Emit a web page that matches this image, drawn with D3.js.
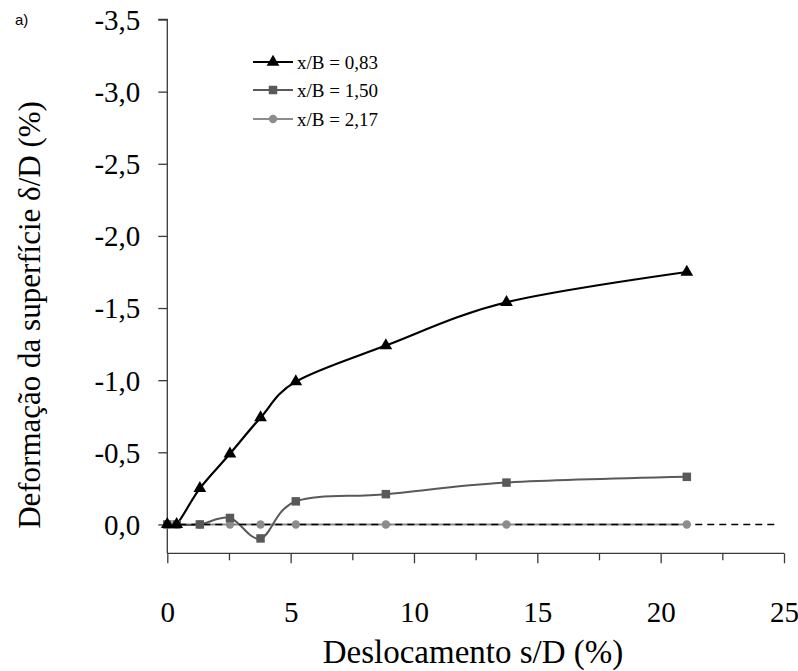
<!DOCTYPE html>
<html>
<head>
<meta charset="utf-8">
<script src="https://cdn.jsdelivr.net/npm/d3@7"></script>
<style>
  html, body { margin: 0; padding: 0; background: #fff; }
  svg { display: block; }
</style>
</head>
<body>
<svg id="chart" width="798" height="671"></svg>
<script>
// Data
const displacement = [0, 0.38, 1.32, 2.54, 3.78, 5.21, 8.86, 13.75, 21.06];
const seriesNames = ["x/B = 0,83", "x/B = 1,50", "x/B = 2,17"];
const valuesB083 = [0, 0, -0.25, -0.49, -0.74, -0.99, -1.24, -1.54, -1.75];
const valuesB150 = [0, 0, 0, -0.045, 0.097, -0.16, -0.21, -0.29, -0.33];
const valuesB217 = [0, 0, 0, 0, 0, 0, 0, 0, 0];
const xTicks = [0, 5, 10, 15, 20, 25];
const xMinorTicks = [2.5, 7.5, 12.5, 17.5, 22.5];
const yTicks = [0, -0.5, -1.0, -1.5, -2.0, -2.5, -3.0, -3.5];
const referenceLine = [0, 24.8];

const SERIF = "'Liberation Serif', 'Times New Roman', Times, serif";
const svg = d3.select("#chart");
const x = d3.scaleLinear().domain([0, 25]).range([167.3, 784]);
const y = d3.scaleLinear().domain([0.2, -3.5]).range([553.3, 19.5]);
const fmt = v => d3.format(".1f")(v).replace(".", ",").replace("−", "-");

const axisColor = "#3a3a3a";

// Axes
const yAxis = d3.axisLeft(y).tickValues(yTicks).tickSize(9).tickFormat(fmt);
const gy = svg.append("g").attr("transform", `translate(${x(0)},0)`).call(yAxis);
gy.attr("font-family", null);
gy.select(".domain").attr("stroke", axisColor).attr("stroke-width", 1.3)
  .attr("d", `M-9,${y(-3.5)}H0V${y(0.2)}`);
gy.selectAll(".tick line").attr("stroke", axisColor).attr("stroke-width", 1.3);
gy.selectAll(".tick text").attr("x", -27).attr("dy", "0.34em").attr("fill", "#000")
  .style("font-family", SERIF).style("font-size", "29px");

const xAxis = d3.axisBottom(x).tickValues(xTicks).tickSize(10).tickFormat(d3.format("d"));
const gx = svg.append("g").attr("transform", `translate(0,${y(0.2)})`).call(xAxis);
gx.attr("font-family", null);
gx.select(".domain").attr("stroke", axisColor).attr("stroke-width", 1.3)
  .attr("d", `M${x(0)},0H${x(25)}`);
gx.selectAll(".tick line").attr("stroke", axisColor).attr("stroke-width", 1.3);
gx.selectAll(".tick text").attr("y", 48).attr("fill", "#000")
  .style("font-family", SERIF).style("font-size", "29px");
const gxm = svg.append("g").attr("transform", `translate(0,${y(0.2)})`)
  .call(d3.axisBottom(x).tickValues(xMinorTicks).tickSize(7).tickFormat(""));
gxm.select(".domain").remove();
gxm.selectAll(".tick line").attr("stroke", axisColor).attr("stroke-width", 1.3);

// Series
const series = [
  { name: seriesNames[0], values: valuesB083, color: "#000000", marker: "triangle", width: 2.2 },
  { name: seriesNames[1], values: valuesB150, color: "#595959", marker: "square", width: 2.0 },
  { name: seriesNames[2], values: valuesB217, color: "#8c8c8c", marker: "circle", width: 2.0 }
];
const line = d3.line().x(d => x(d[0])).y(d => y(d[1])).curve(d3.curveCardinal.tension(0));
const symbolOf = {
  triangle: d3.symbol().type(d3.symbolTriangle).size(70),
  square: d3.symbol().type(d3.symbolSquare).size(72),
  circle: d3.symbol().type(d3.symbolCircle).size(55)
};

const ordered = series.slice().reverse();
ordered.forEach(s => {
  const pts = displacement.map((d, i) => [d, s.values[i]]);
  svg.append("path").datum(pts).attr("d", line)
    .attr("fill", "none").attr("stroke", s.color).attr("stroke-width", s.width);
});

// Reference dashed line at zero (drawn over the lines)
svg.append("line")
  .attr("x1", x(referenceLine[0])).attr("x2", x(referenceLine[1]))
  .attr("y1", y(0)).attr("y2", y(0))
  .attr("stroke", "#000").attr("stroke-width", 1.6)
  .attr("stroke-dasharray", "7,5");

ordered.forEach(s => {
  const pts = displacement.map((d, i) => [d, s.values[i]]);
  svg.selectAll(null).data(pts).enter().append("path")
    .attr("d", symbolOf[s.marker])
    .attr("transform", d => `translate(${x(d[0])},${y(d[1])})`)
    .attr("fill", s.color);
});

// Legend
const legendY = [62, 90, 119];
series.forEach((s, i) => {
  const g = svg.append("g").attr("transform", `translate(253,${legendY[i]})`);
  g.append("line").attr("x1", 0).attr("x2", 40).attr("stroke", s.color).attr("stroke-width", s.width);
  g.append("path").attr("d", symbolOf[s.marker]).attr("transform", "translate(20,0)").attr("fill", s.color);
  g.append("text").attr("x", 44).attr("dy", "0.35em")
    .style("font-family", SERIF).style("font-size", "19px").text(s.name);
});

// Titles
svg.append("text").attr("x", 473).attr("y", 663).attr("text-anchor", "middle")
  .style("font-family", SERIF).style("font-size", "33px").text("Deslocamento s/D (%)");
svg.append("text").attr("transform", "translate(40,315) rotate(-90)")
  .attr("text-anchor", "middle")
  .style("font-family", SERIF).style("font-size", "31px")
  .text("Deformação da superfície δ/D (%)");
svg.append("text").attr("x", 15).attr("y", 25)
  .style("font-family", "'Liberation Sans', Arial, sans-serif")
  .style("font-size", "15px").text("a)");
</script>
</body>
</html>
